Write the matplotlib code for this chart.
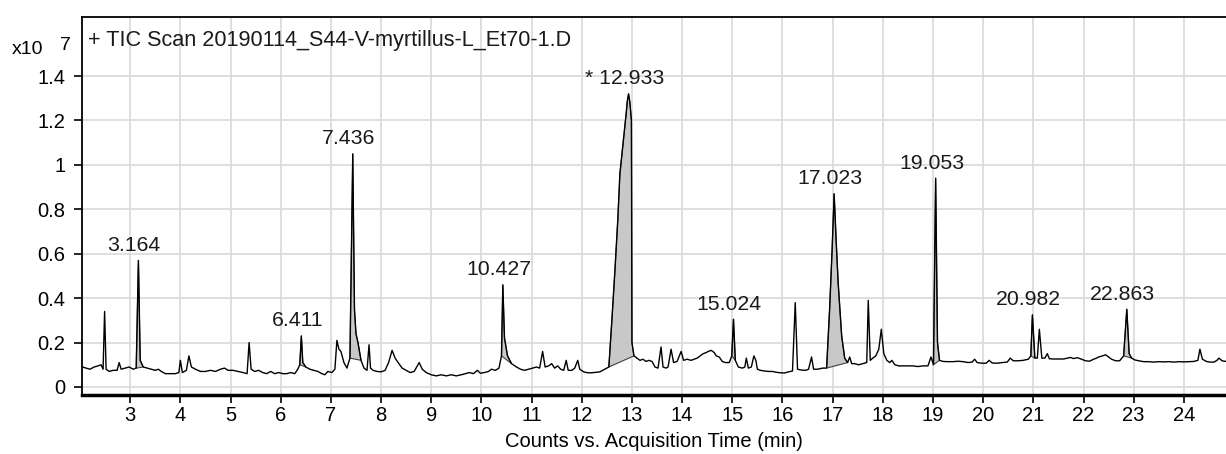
import matplotlib
matplotlib.use("Agg")
import matplotlib.pyplot as plt
import numpy as np

plt.rcParams['font.family'] = ['Liberation Sans', 'DejaVu Sans']

# TIC trace, counts in units of 1e7
rt = [
    2.05, 2.12, 2.2, 2.28, 2.36, 2.42, 2.46, 2.49, 2.52, 2.58, 2.66, 2.74, 2.78, 2.82, 2.9, 2.98,
    3.06, 3.12, 3.164, 3.2, 3.26, 3.34, 3.42, 3.5, 3.56, 3.62, 3.7, 3.8, 3.9, 3.97,
    4.0, 4.04, 4.12, 4.17, 4.22, 4.3, 4.4, 4.5, 4.6, 4.7, 4.8, 4.88, 4.95,
    5.05, 5.15, 5.25, 5.33, 5.37, 5.41, 5.48, 5.56, 5.64, 5.72, 5.8, 5.88, 5.96,
    6.04, 6.12, 6.2, 6.28, 6.34, 6.38, 6.411, 6.44, 6.5, 6.58, 6.66, 6.74, 6.82, 6.88, 6.94,
    7.02, 7.08, 7.12, 7.16, 7.2, 7.26, 7.32, 7.38, 7.436, 7.47, 7.5, 7.54, 7.6, 7.66, 7.72,
    7.76, 7.79, 7.84, 7.92, 8.0, 8.08, 8.15, 8.22, 8.28, 8.34, 8.42, 8.5, 8.58, 8.66, 8.76,
    8.82, 8.9, 9.0, 9.1, 9.2, 9.3, 9.4, 9.5, 9.6, 9.68, 9.76, 9.84, 9.92, 9.98,
    10.06, 10.14, 10.2, 10.28, 10.35, 10.4, 10.427, 10.46, 10.52, 10.6, 10.7, 10.78, 10.86, 10.94,
    11.02, 11.1, 11.16, 11.22, 11.27, 11.34, 11.4, 11.46, 11.52, 11.58, 11.64, 11.69, 11.73,
    11.8, 11.86, 11.92, 11.96, 12.04, 12.12, 12.2, 12.28, 12.36, 12.44, 12.54, 12.6, 12.66,
    12.72, 12.76, 12.83, 12.88, 12.91, 12.933, 12.96, 12.99, 13.0, 13.04, 13.1, 13.16, 13.22,
    13.28, 13.34, 13.4, 13.46, 13.52, 13.58, 13.62, 13.68, 13.72, 13.78, 13.83, 13.9, 13.98,
    14.03, 14.1, 14.18, 14.24, 14.3, 14.36, 14.42, 14.48, 14.52, 14.58, 14.64, 14.68, 14.74,
    14.8, 14.86, 14.94, 14.99, 15.024, 15.06, 15.12, 15.2, 15.25, 15.28, 15.32, 15.38, 15.43,
    15.47, 15.5, 15.56, 15.64, 15.72, 15.8, 15.88, 15.96, 16.04, 16.12, 16.2, 16.255, 16.3,
    16.38, 16.46, 16.52, 16.58, 16.62, 16.7, 16.8, 16.88, 16.94, 16.99, 17.03, 17.07, 17.11,
    17.18, 17.24, 17.3, 17.34, 17.38, 17.44, 17.52, 17.6, 17.68, 17.71, 17.75, 17.8, 17.86,
    17.92, 17.97, 18.02, 18.08, 18.14, 18.18, 18.24, 18.32, 18.4, 18.5, 18.6, 18.7, 18.8, 18.9,
    18.96, 19.01, 19.053, 19.09, 19.13, 19.2, 19.3, 19.4, 19.5, 19.6, 19.7, 19.78, 19.83, 19.88,
    19.98, 20.06, 20.12, 20.18, 20.28, 20.38, 20.48, 20.54, 20.6, 20.7, 20.8, 20.9, 20.95,
    20.982, 21.03, 21.08, 21.12, 21.17, 21.23, 21.28, 21.32, 21.4, 21.5, 21.6, 21.68, 21.74,
    21.8, 21.88, 21.96, 22.04, 22.12, 22.2, 22.26, 22.3, 22.38, 22.44, 22.5, 22.56, 22.64,
    22.72, 22.8, 22.863, 22.91, 22.96, 23.02, 23.1, 23.2, 23.3, 23.4, 23.5, 23.6, 23.7, 23.8,
    23.9, 24.0, 24.1, 24.2, 24.28, 24.32, 24.37, 24.45, 24.52, 24.6, 24.66, 24.7, 24.76, 24.84,
]
counts = [
    0.09, 0.085, 0.08, 0.09, 0.095, 0.1, 0.08, 0.34, 0.08, 0.07, 0.075, 0.075, 0.11, 0.08, 0.085, 0.09,
    0.08, 0.085, 0.57, 0.12, 0.09, 0.085, 0.08, 0.075, 0.08, 0.07, 0.06, 0.06, 0.06, 0.065,
    0.12, 0.065, 0.075, 0.14, 0.09, 0.08, 0.07, 0.07, 0.075, 0.07, 0.08, 0.085, 0.075,
    0.075, 0.07, 0.065, 0.06, 0.2, 0.08, 0.07, 0.075, 0.065, 0.06, 0.07, 0.06, 0.065,
    0.06, 0.06, 0.065, 0.06, 0.08, 0.1, 0.23, 0.11, 0.09, 0.08, 0.075, 0.07, 0.06, 0.055, 0.07,
    0.065, 0.08, 0.21, 0.17, 0.16, 0.11, 0.085, 0.13, 1.05, 0.35, 0.24, 0.2, 0.12, 0.085, 0.075,
    0.19, 0.085, 0.075, 0.07, 0.068, 0.075, 0.11, 0.165, 0.13, 0.11, 0.085, 0.075, 0.065, 0.07, 0.11,
    0.08, 0.065, 0.055, 0.05, 0.055, 0.05, 0.055, 0.05, 0.055, 0.06, 0.065, 0.06, 0.075, 0.062,
    0.065, 0.07, 0.08, 0.075, 0.085, 0.14, 0.46, 0.22, 0.14, 0.105, 0.09, 0.08, 0.075, 0.08,
    0.085, 0.09, 0.085, 0.16, 0.09, 0.095, 0.105, 0.085, 0.095, 0.08, 0.075, 0.12, 0.075,
    0.075, 0.085, 0.12, 0.08, 0.068, 0.064, 0.064, 0.066, 0.068, 0.078, 0.09, 0.3, 0.52,
    0.76, 0.96, 1.11, 1.22, 1.29, 1.32, 1.28, 1.2, 0.2, 0.14, 0.13, 0.12, 0.125,
    0.115, 0.12, 0.115, 0.09, 0.085, 0.18, 0.09, 0.085, 0.09, 0.17, 0.11, 0.115, 0.16,
    0.12, 0.125, 0.12, 0.125, 0.13, 0.14, 0.15, 0.155, 0.16, 0.165, 0.155, 0.14, 0.135,
    0.115, 0.11, 0.11, 0.14, 0.305, 0.12, 0.09, 0.085, 0.09, 0.13, 0.085, 0.09, 0.14,
    0.12, 0.08, 0.075, 0.072, 0.07, 0.07, 0.066, 0.064, 0.063, 0.068, 0.072, 0.38, 0.08,
    0.076, 0.075, 0.08, 0.135, 0.08, 0.08, 0.085, 0.085, 0.35, 0.62, 0.87, 0.66, 0.47,
    0.23, 0.13, 0.11, 0.135, 0.105, 0.105, 0.1, 0.105, 0.11, 0.39, 0.12, 0.13, 0.14,
    0.17, 0.26, 0.15, 0.12, 0.11, 0.12, 0.1, 0.095, 0.095, 0.095, 0.095, 0.092, 0.095, 0.095,
    0.135, 0.1, 0.94, 0.2, 0.12, 0.115, 0.114, 0.114, 0.116, 0.114, 0.11, 0.112, 0.125, 0.11,
    0.107, 0.107, 0.12, 0.108, 0.107, 0.11, 0.112, 0.13, 0.118, 0.118, 0.12, 0.125, 0.14,
    0.325, 0.13, 0.13, 0.26, 0.13, 0.13, 0.15, 0.127, 0.126, 0.126, 0.126, 0.13, 0.133,
    0.128, 0.132, 0.125, 0.118, 0.116, 0.125, 0.13, 0.135, 0.14, 0.145, 0.135, 0.125, 0.118,
    0.118, 0.14, 0.35, 0.15, 0.13, 0.122, 0.118, 0.114, 0.114, 0.112, 0.114, 0.113, 0.114, 0.112,
    0.114, 0.113, 0.114, 0.115, 0.12, 0.17, 0.125, 0.115, 0.112, 0.112, 0.12, 0.13, 0.118, 0.115,
]

# labelled peaks and their integration windows (min)
peak_labels = ["3.164", "6.411", "7.436", "10.427", "* 12.933", "15.024",
               "17.023", "19.053", "20.982", "22.863"]
peak_start = [3.12, 6.38, 7.38, 10.4, 12.54, 14.99, 16.88, 19.01, 20.95, 22.8]
peak_end = [3.26, 6.5, 7.6, 10.6, 13.04, 15.06, 17.3, 19.13, 21.03, 22.96]

title = "+ TIC Scan 20190114_S44-V-myrtillus-L_Et70-1.D"
xticks = list(range(3, 25))
yticks = [0, 0.2, 0.4, 0.6, 0.8, 1, 1.2, 1.4]

t = np.array(rt)
c = np.array(counts)

fig = plt.figure(figsize=(12.26, 4.54), dpi=100)
ax = fig.add_axes([0.0669, 0.13, 0.9331, 0.8326])

# shaded integrated peaks: polygon closes along the straight baseline
for lab, s, e in zip(peak_labels, peak_start, peak_end):
    m = (t >= s - 1e-6) & (t <= e + 1e-6)
    ax.fill(t[m], c[m], facecolor='#c8c8c8', edgecolor='#404040', lw=0.8, zorder=2)
    i = np.argmax(np.where(m, c, -1))
    ax.annotate(lab, (t[i], c[i]), xytext=(-3, 4), textcoords='offset points',
                ha='center', va='bottom', fontsize=15.3, color='#1a1a1a')

ax.plot(t, c, color='black', lw=1.0, zorder=3)

ax.set_xlim(2.04, 24.84)
ax.set_ylim(-0.036, 1.666)
ax.set_xticks(xticks)
ax.set_yticks(yticks)
ax.set_yticklabels(['%g' % v for v in yticks])
ax.grid(True, color='#dcdcdc', lw=1.3)
ax.set_axisbelow(True)
ax.tick_params(labelsize=14.5, length=6, width=1.2, colors='black')
ax.tick_params(axis='y', pad=6)
ax.tick_params(axis='x', pad=2)

ax.spines['right'].set_visible(False)
ax.spines['left'].set_linewidth(1.3)
ax.spines['top'].set_linewidth(1.3)
ax.spines['bottom'].set_linewidth(2.5)

ax.set_xlabel("Counts vs. Acquisition Time (min)", fontsize=14.5, labelpad=5)
ax.text(0.005, 0.939, title, transform=ax.transAxes, fontsize=15.6,
        ha='left', va='center', color='#1a1a1a')

fig.text(12 / 1226, 1 - 49 / 454, "x10", fontsize=14, ha='left', va='center')
fig.text(60 / 1226, 1 - 45 / 454, "7", fontsize=14, ha='left', va='center')

fig.savefig("out.png", dpi=100)
